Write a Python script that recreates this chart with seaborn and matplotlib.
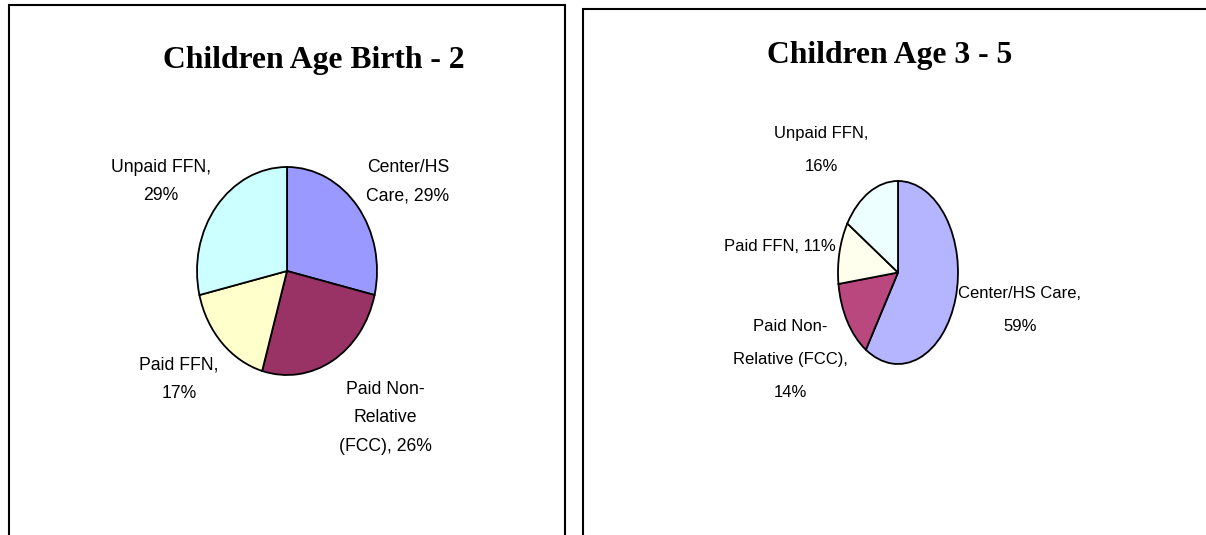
import matplotlib
matplotlib.use("Agg")
import matplotlib.pyplot as plt
from matplotlib import font_manager
from matplotlib.patches import Rectangle
import seaborn as sns

# data (percent of children)
categories = ["Center/HS Care", "Paid Non-Relative (FCC)", "Paid FFN", "Unpaid FFN"]
birth_to_2 = [29, 26, 17, 29]
age_3_to_5 = [59, 14, 11, 16]

titles = ["Children Age Birth - 2", "Children Age 3 - 5"]

# label wording, wrapped the way the original charts wrap it
names_left = ["Center/HS\nCare", "Paid Non-\nRelative\n(FCC)", "Paid FFN", "Unpaid FFN"]
seps_left = [", ", ", ", ",\n", ",\n"]
names_right = ["Center/HS Care", "Paid Non-\nRelative (FCC)", "Paid FFN", "Unpaid FFN"]
seps_right = [",\n", ",\n", ", ", ",\n"]

colors_left = ["#9999FF", "#993366", "#FFFFCC", "#CCFFFF"]
colors_right = ["#B4B4FF", "#B8487E", "#FFFFEE", "#EEFFFF"]

W, H = 1206, 535

sns.set_theme(style="white")


def have_font(name):
    try:
        font_manager.findfont(name, fallback_to_default=False)
        return True
    except Exception:
        return False


# the right chart uses a squeezed font; fall back to a smaller regular one
if have_font("Liberation Sans Narrow"):
    narrow, narrow_size, narrow_ls = "Liberation Sans Narrow", 14.2, 2.1
else:
    narrow, narrow_size, narrow_ls = "Liberation Sans", 12.0, 2.5

fig = plt.figure(figsize=(W / 100, H / 100), dpi=100)


def fx(x):
    return x / W


def fy(y):
    return 1 - y / H


# panel frames (they run off the bottom / right of the image)
for x0, x1, ytop in [(9, 565, 5), (583, 1230, 9)]:
    fig.patches.append(Rectangle((fx(x0), -0.1), fx(x1) - fx(x0), fy(ytop) + 0.1,
                                 transform=fig.transFigure, fill=False,
                                 edgecolor="black", linewidth=1.5, clip_on=False))


def draw_pie(box, values, colors, names, seps, label_pos, title, title_xy, font, size, ls):
    x0, y0, x1, y1 = box
    ax = fig.add_axes([fx(x0), fy(y1), fx(x1) - fx(x0), (y1 - y0) / H])
    ax.pie(values, colors=colors, startangle=90, counterclock=False,
           wedgeprops=dict(edgecolor="black", linewidth=1.3))
    ax.set_aspect("auto")
    ax.set_xlim(-1, 1)
    ax.set_ylim(-1, 1)
    ax.axis("off")
    for name, sep, v, (lx, ly) in zip(names, seps, values, label_pos):
        fig.text(fx(lx), fy(ly), f"{name}{sep}{v}%", ha="center", va="top",
                 family=font, fontsize=size, linespacing=ls, color="black")
    fig.text(fx(title_xy[0]), fy(title_xy[1]), title, ha="center", va="baseline",
             family="Liberation Serif", fontweight="bold", fontsize=22.8, color="black")


draw_pie((197, 167, 377, 375), birth_to_2, colors_left, names_left, seps_left,
         [(408, 159), (385, 381), (179, 357), (161, 159)],
         titles[0], (314, 68), "Liberation Sans", 12.7, 1.88)

draw_pie((838, 181, 958, 364), age_3_to_5, colors_right, names_right, seps_right,
         [(1020, 286), (790, 319), (780, 239), (821, 126)],
         titles[1], (890, 63), narrow, narrow_size, narrow_ls)

fig.savefig("out.png", dpi=100)
